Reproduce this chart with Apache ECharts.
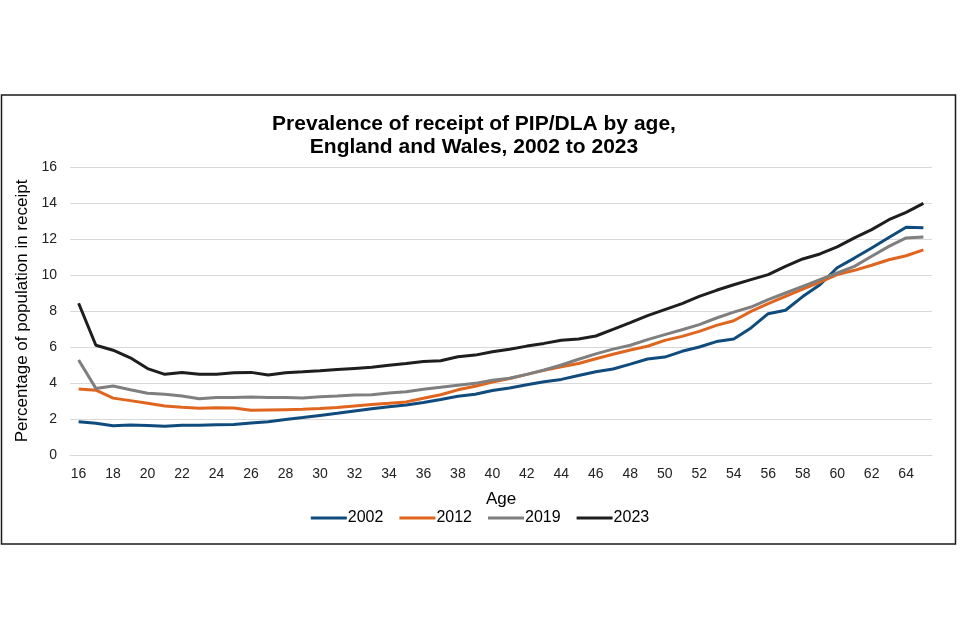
<!DOCTYPE html>
<html>
<head>
<meta charset="utf-8">
<script src="https://cdn.jsdelivr.net/npm/echarts@6/dist/echarts.min.js"></script>
<style>
html,body{margin:0;padding:0;background:#fff;}
#c{width:960px;height:640px;}
</style>
</head>
<body>
<div id="c"></div>
<script>
const ages = [];
for (let a = 16; a <= 65; a++) ages.push(String(a));

const seriesNames = ['2002', '2012', '2019', '2023'];

const v2002 = [1.85,1.76,1.62,1.67,1.64,1.60,1.65,1.65,1.68,1.70,1.78,1.85,1.97,2.08,2.20,2.32,2.45,2.57,2.68,2.78,2.92,3.08,3.26,3.37,3.58,3.72,3.90,4.07,4.20,4.42,4.62,4.78,5.05,5.33,5.44,5.76,6.00,6.30,6.45,7.06,7.85,8.04,8.80,9.46,10.40,10.94,11.50,12.08,12.65,12.62];
const v2012 = [3.67,3.60,3.16,3.02,2.87,2.72,2.65,2.60,2.63,2.61,2.48,2.50,2.52,2.54,2.58,2.64,2.72,2.80,2.87,2.95,3.15,3.35,3.62,3.82,4.05,4.25,4.48,4.70,4.90,5.08,5.35,5.60,5.83,6.04,6.37,6.59,6.87,7.20,7.46,7.98,8.41,8.81,9.22,9.61,10.02,10.26,10.54,10.85,11.07,11.40];
const v2019 = [5.28,3.70,3.83,3.62,3.43,3.38,3.28,3.12,3.20,3.19,3.22,3.20,3.19,3.17,3.24,3.28,3.33,3.35,3.44,3.52,3.65,3.76,3.88,3.98,4.15,4.26,4.48,4.72,5.00,5.32,5.62,5.88,6.10,6.41,6.69,6.96,7.24,7.61,7.94,8.22,8.63,9.00,9.37,9.74,10.11,10.48,11.04,11.59,12.06,12.11];
const v2023 = [8.43,6.10,5.82,5.40,4.80,4.48,4.58,4.48,4.48,4.57,4.59,4.44,4.57,4.62,4.68,4.75,4.81,4.87,4.98,5.08,5.20,5.24,5.46,5.55,5.74,5.87,6.05,6.20,6.38,6.45,6.61,6.98,7.35,7.74,8.08,8.41,8.81,9.15,9.46,9.74,10.02,10.48,10.89,11.17,11.56,12.06,12.52,13.07,13.48,13.98];

const values = [v2002, v2012, v2019, v2023];
const colors = ['#0F4C7D', '#E0661F', '#7F7F7F', '#1E1E1E'];

const FONT = '"Liberation Sans", Arial, sans-serif';

const chart = echarts.init(document.getElementById('c'));
chart.setOption({
  backgroundColor: '#fff',
  animation: false,
  textStyle: { fontFamily: FONT },
  graphic: [{
    type: 'rect',
    shape: { x: 1.5, y: 95, width: 954, height: 449 },
    style: { fill: 'none', stroke: '#1a1a1a', lineWidth: 1.5 },
    silent: true
  }],
  title: {
    text: 'Prevalence of receipt of PIP/DLA by age,\nEngland and Wales, 2002 to 2023',
    left: 469,
    textAlign: 'center',
    top: 107,
    textStyle: { fontFamily: FONT, fontSize: 21, fontWeight: 'bold', color: '#000', lineHeight: 23.5 }
  },
  legend: {
    data: seriesNames,
    bottom: 109,
    left: 'center',
    icon: 'rect',
    itemWidth: 36,
    itemHeight: 3,
    itemGap: 16,
    textStyle: { fontFamily: FONT, fontSize: 16, color: '#000', padding: [0, 0, 0, -4] }
  },
  grid: { left: 70, right: 28, top: 167, bottom: 185 },
  xAxis: {
    type: 'category',
    data: ages,
    boundaryGap: true,
    name: 'Age',
    nameLocation: 'middle',
    nameGap: 36,
    nameTextStyle: { fontFamily: FONT, fontSize: 17, color: '#000' },
    axisLine: { show: true, lineStyle: { color: '#d9d9d9', width: 1 } },
    axisTick: { show: false },
    axisLabel: { interval: 1, margin: 12, fontFamily: FONT, fontSize: 14, color: '#222' }
  },
  yAxis: {
    type: 'value',
    min: 0,
    max: 16,
    interval: 2,
    name: 'Percentage of population in receipt',
    nameLocation: 'middle',
    nameGap: 36,
    nameTextStyle: { fontFamily: FONT, fontSize: 17, color: '#000' },
    axisLine: { show: false },
    axisTick: { show: false },
    axisLabel: { margin: 13, fontFamily: FONT, fontSize: 14, color: '#222' },
    splitLine: { lineStyle: { color: '#d9d9d9', width: 1 } }
  },
  series: seriesNames.map((n, i) => ({
    name: n,
    type: 'line',
    data: values[i],
    symbol: 'none',
    lineStyle: { width: 3, color: colors[i] },
    itemStyle: { color: colors[i] }
  }))
});
</script>
</body>
</html>
